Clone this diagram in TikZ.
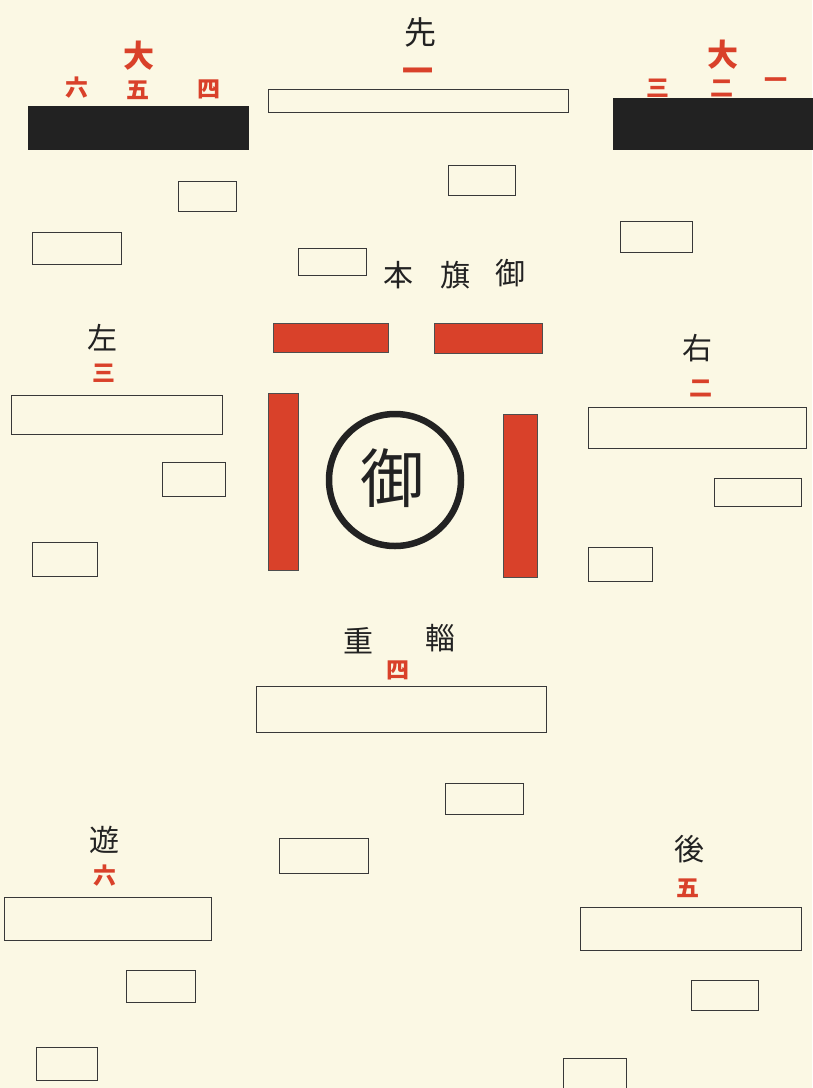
\documentclass[tikz,border=0pt]{standalone}
\usepackage{fontspec}
\newfontfamily\cjk{Noto Sans CJK JP}
\definecolor{paper}{HTML}{FBF8E4}
\definecolor{vermil}{HTML}{D9412A}
\definecolor{ink}{HTML}{222222}
\begin{document}
\begin{tikzpicture}[x=1pt,y=-1pt,
  box/.style={draw=ink!90, line width=1pt},
  blackbar/.style={fill=ink, draw=ink},
  redbar/.style={fill=vermil, draw=ink!80, line width=0.7pt},
  lab/.style={font=\cjk\fontsize{30}{30}\selectfont, text=ink, inner sep=0pt},
  biglab/.style={font=\cjk\fontsize{32}{32}\selectfont, text=ink, inner sep=0pt},
  num/.style={font=\cjk\bfseries\fontsize{23}{23}\selectfont, text=vermil, inner sep=0pt},
  bignum/.style={font=\cjk\bfseries\fontsize{31}{31}\selectfont, text=vermil, inner sep=0pt}]
\fill[paper] (0,0) rectangle (812,1088);
\useasboundingbox (0,0) rectangle (812,1088);

% top
\node[biglab] (sen) at (420,32) {先};
\node[bignum] (n1top) at (418,75) {一};
\draw[box] (268,89) rectangle (568,112);

\node[bignum] (daiL) at (139,56) {大};
\node[num] (n6L) at (77,88) {六};
\node[num] (n5L) at (138,90) {五};
\node[num] (n4L) at (209,89) {四};
\fill[blackbar] (28,106) rectangle (248,149);

\node[bignum] (daiR) at (723,55) {大};
\node[num] (n3R) at (658,88) {三};
\node[num] (n2R) at (722,88) {二};
\node[num] (n1R) at (776,83) {一};
\fill[blackbar] (613,98) rectangle (812,149);

% upper small boxes
\draw[box] (178,181) rectangle (236,211);
\draw[box] (448,165) rectangle (515,195);
\draw[box] (32,232) rectangle (121,264);
\draw[box] (620,221) rectangle (692,252);
\draw[box] (298,248) rectangle (366,275);

\node[lab] (hon) at (398,275) {本};
\node[lab] (ki) at (455,275) {旗};
\node[lab] (gyo) at (510,273) {御};

% red banners
\draw[redbar] (273,323) rectangle (388,352);
\draw[redbar] (434,323) rectangle (542,353);
\draw[redbar] (268,393) rectangle (298,570);
\draw[redbar] (503,414) rectangle (537,577);

\draw[ink, line width=6.5pt] (395,480) circle (66);
\node[font=\cjk\fontsize{64}{64}\selectfont, text=ink, inner sep=0pt] (gyoC) at (392,478) {御};

% left
\node[lab] (sa) at (102,338) {左};
\node[num] (n3) at (104,373) {三};
\draw[box] (11,395) rectangle (222,434);
\draw[box] (162,462) rectangle (225,496);
\draw[box] (32,542) rectangle (97,576);

% right
\node[lab] (u) at (697,348) {右};
\node[num] (n2) at (701,388) {二};
\draw[box] (588,407) rectangle (806,448);
\draw[box] (714,478) rectangle (801,506);
\draw[box] (588,547) rectangle (652,581);

% supply train
\node[lab] (ju) at (358,641) {重};
\node[lab] (shi) at (440,638) {輜};
\node[num] (n4) at (398,670) {四};
\draw[box] (256,686) rectangle (546,732);
\draw[box] (445,783) rectangle (523,814);
\draw[box] (279,838) rectangle (368,873);

% bottom left
\node[lab] (yu) at (104,840) {遊};
\node[num] (n6) at (105,876) {六};
\draw[box] (4,897) rectangle (211,940);
\draw[box] (126,970) rectangle (195,1002);
\draw[box] (36,1047) rectangle (97,1080);

% bottom right
\node[lab] (go) at (689,849) {後};
\node[num] (n5) at (688,888) {五};
\draw[box] (580,907) rectangle (801,950);
\draw[box] (691,980) rectangle (758,1010);
\draw[box] (563,1058) rectangle (626,1095);
\end{tikzpicture}
\end{document}
